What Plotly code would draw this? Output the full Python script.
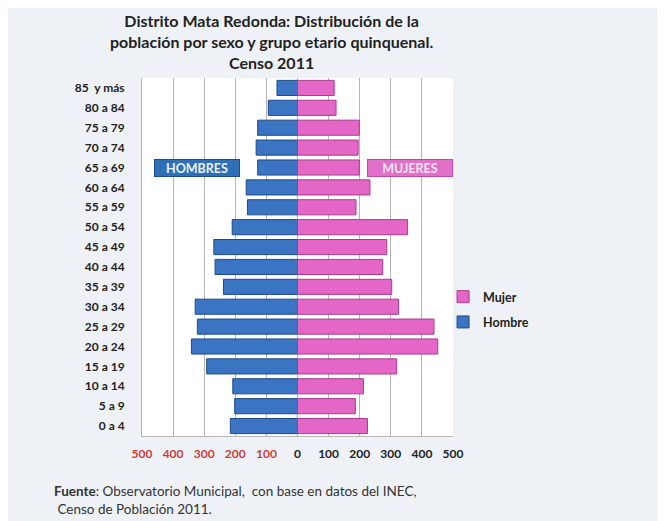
import plotly.graph_objects as go

# grupos de edad (de abajo hacia arriba)
grupos = ["0 a 4", "5 a 9", "10 a 14", "15 a 19", "20 a 24", "25 a 29",
          "30 a 34", "35 a 39", "40 a 44", "45 a 49", "50 a 54", "55 a 59",
          "60 a 64", "65 a 69", "70 a 74", "75 a 79", "80 a 84", "85  y más"]
hombres = [216, 202, 208, 292, 341, 322, 329, 238, 265, 269, 210, 161,
           165, 128, 133, 128, 94, 66]
mujeres = [225, 186, 212, 319, 451, 439, 325, 303, 274, 287, 354, 188,
           233, 199, 195, 199, 124, 118]

tick_vals = [-500, -400, -300, -200, -100, 0, 100, 200, 300, 400, 500]
tick_text = ["<span style='color:#d23a3a'>500</span>",
             "<span style='color:#d23a3a'>400</span>",
             "<span style='color:#d23a3a'>300</span>",
             "<span style='color:#d23a3a'>200</span>",
             "<span style='color:#d23a3a'>100</span>",
             "0", "100", "200", "300", "400", "500"]

AZUL = "#3b74c2"
ROSA = "#e466c6"
FUENTE = "Lato"

fig = go.Figure()

fig.add_trace(go.Bar(
    y=grupos,
    x=[-v for v in hombres],
    orientation="h",
    name="Hombre",
    legendgroup="h",
    legendrank=2,
    marker=dict(color=AZUL, line=dict(color="#1f4a86", width=1)),
))

fig.add_trace(go.Bar(
    y=grupos,
    x=mujeres,
    orientation="h",
    name="Mujer",
    legendgroup="m",
    legendrank=1,
    marker=dict(color=ROSA, line=dict(color="#a83c8e", width=1)),
))

# la página añade 8 px de margen, por eso el lienzo es algo menor
fig.update_layout(
    width=657,
    height=513,
    barmode="relative",
    bargap=0.24,
    paper_bgcolor="#eef2f7",
    plot_bgcolor="white",
    font=dict(family=FUENTE, color="#222222"),
    margin=dict(l=134, r=212, t=70, b=85),
    legend=dict(
        x=0.968, y=0.43, xanchor="left", yanchor="top",
        traceorder="grouped",
        tracegroupgap=6,
        bgcolor="rgba(0,0,0,0)",
        font=dict(size=12.5, weight="bold"),
        itemwidth=30,
    ),
    xaxis=dict(
        range=[-500, 500],
        tickvals=tick_vals,
        ticktext=tick_text,
        tickfont=dict(size=12, weight="bold"),
        showgrid=True,
        gridcolor="#b5b5b5",
        gridwidth=1,
        zeroline=False,
        showline=True,
        linecolor="#b5b5b5",
        fixedrange=True,
        ticks="",
        ticklabelstandoff=7,
    ),
    yaxis=dict(
        categoryorder="array",
        categoryarray=grupos,
        tickfont=dict(size=12, weight="bold"),
        showgrid=False,
        showline=True,
        linecolor="#b5b5b5",
        ticks="",
        ticklabelstandoff=14,
    ),
)

# título
fig.add_annotation(
    xref="paper", yref="paper", x=0.415, y=1.012,
    xanchor="center", yanchor="bottom", align="center",
    text="<b>Distrito Mata Redonda: Distribución de la<br>"
         "población por sexo y grupo etario quinquenal.<br>Censo 2011</b>",
    showarrow=False,
    font=dict(size=16, color="#222222"),
)

# etiquetas HOMBRES / MUJERES
fig.add_annotation(
    x=-322, y="65 a 69", text="<b>HOMBRES</b>", showarrow=False,
    font=dict(size=12.5, color="#e8f2ff"),
    bgcolor="#2f6fb8", bordercolor="#1c4f8a", borderwidth=1,
    width=82, height=14,
)
fig.add_annotation(
    x=362, y="65 a 69", text="<b>MUJERES</b>", showarrow=False,
    font=dict(size=12.5, color="#fbe3f5"),
    bgcolor="#e070c8", bordercolor="#c04aa6", borderwidth=1,
    width=82, height=14,
)

# fuente
fig.add_annotation(
    xref="paper", yref="paper", x=-0.29, y=-0.125,
    xanchor="left", yanchor="top", align="left",
    text="<b>Fuente</b>: Observatorio Municipal,  con base en datos del INEC,<br>"
         " Censo de Población 2011.",
    showarrow=False,
    font=dict(size=13.5, color="#333333"),
)

fig.write_html("out.html")
